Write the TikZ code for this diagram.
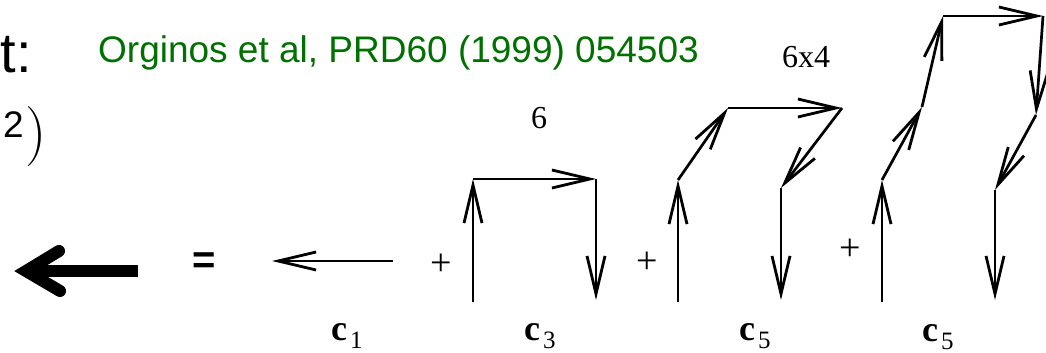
\documentclass[tikz,border=0pt]{standalone}
\usepackage{fontspec}
\usepackage{xcolor}
\usepackage{tikz}
\usetikzlibrary{arrows.meta}
\newfontfamily\slidesans{Liberation Sans}
\newfontfamily\slideserif{Liberation Serif}
\definecolor{refgreen}{RGB}{0,112,0}
\newcommand{\coefc}[1]{\textbf{c}\kern3pt\raisebox{-8pt}{\fontsize{25}{25}\selectfont #1}}

\begin{document}
\begin{tikzpicture}[x=1pt,y=-1pt,
  link/.style={line width=2.7pt,-{Straight Barb[length=38pt,width=18pt,line width=2.8pt]}},
  bigarrow/.style={line width=12pt},
  coef/.style={font=\slideserif\fontsize{36}{36}\selectfont,inner sep=0pt,anchor=base west},
  plus/.style={font=\slideserif\fontsize{38}{38}\selectfont,inner sep=0pt},
  count/.style={font=\slideserif\fontsize{32}{32}\selectfont,inner sep=0pt}]
\useasboundingbox (0,0) rectangle (1046,353);

% texts at the top left
\node[inner sep=0pt,anchor=base east,font=\slidesans\fontsize{56}{56}\selectfont] (head) at (32,73) {t:};
\node[inner sep=0pt,anchor=base west] (order) at (3,151)
  {{\slidesans\fontsize{37}{37}\selectfont\raisebox{14pt}{2}}\kern2pt{\fontsize{60}{60}\selectfont)}};
\node[inner sep=0pt,anchor=base west,text=refgreen,font=\slidesans\fontsize{37}{37}\selectfont] (ref) at (98,63)
  {Orginos et al, PRD60 (1999) 054503};

% the fat link on the left, with its shadow
\coordinate (tipL) at (26,271);
\coordinate (tail) at (138,271);
\coordinate (barbT) at (59,251);
\coordinate (barbB) at (60,291);
\begin{scope}[shift={(2,4)},gray,opacity=.35]
\draw[bigarrow,line cap=round,line join=miter] (barbT) -- (tipL) -- (barbB);
\draw[bigarrow] (tipL) -- (tail);
\end{scope}
\draw[bigarrow,line cap=round,line join=miter] (barbT) -- (tipL) -- (barbB);
\draw[bigarrow] (tipL) -- (tail);
\node[inner sep=0pt,font=\slidesans\bfseries\fontsize{40}{40}\selectfont] (eq) at (204,263) {=};

% plaquette c1
\coordinate (a1) at (393,261);
\coordinate (a2) at (272,261);
\draw[link] (a1) -- (a2);
\node[plus] (plus1) at (441,265) {+};

% staple c3
\coordinate (p1) at (473,302);
\coordinate (p2) at (473,179);
\coordinate (p3) at (596,179);
\coordinate (p4) at (596,300);
\foreach \a/\b in {p1/p2,p2/p3,p3/p4} \draw[link] (\a) -- (\b);
\node[count] (six) at (539,118) {6};
\node[plus] (plus2) at (647,263) {+};

% bent staple c5
\coordinate (q1) at (678,302);
\coordinate (q2) at (678,180);
\coordinate (q3) at (728,108);
\coordinate (q4) at (842,108);
\coordinate (q5) at (781,188);
\coordinate (q6) at (781,300);
\foreach \a/\b in {q1/q2,q2/q3,q3/q4,q4/q5,q5/q6} \draw[link] (\a) -- (\b);
\node[count] (sixfour) at (806,57) {6x4};
\node[plus] (plus3) at (850,250) {+};

% long bent staple c5
\coordinate (r1) at (882,302);
\coordinate (r2) at (882,180);
\coordinate (r3) at (922,107);
\coordinate (r4) at (943,16);
\coordinate (r5) at (1043,16);
\coordinate (r6) at (1036,115);
\coordinate (r7) at (995,190);
\coordinate (r8) at (995,300);
\foreach \a/\b in {r1/r2,r2/r3,r3/r4,r4/r5,r5/r6,r6/r7,r7/r8} \draw[link] (\a) -- (\b);

% coefficients
\node[coef] (cone) at (331,340) {\coefc{1}};
\node[coef] (cthree) at (524,340) {\coefc{3}};
\node[coef] (cfive) at (739,340) {\coefc{5}};
\node[coef] (cfiveb) at (922,341) {\coefc{5}};
\end{tikzpicture}
\end{document}
